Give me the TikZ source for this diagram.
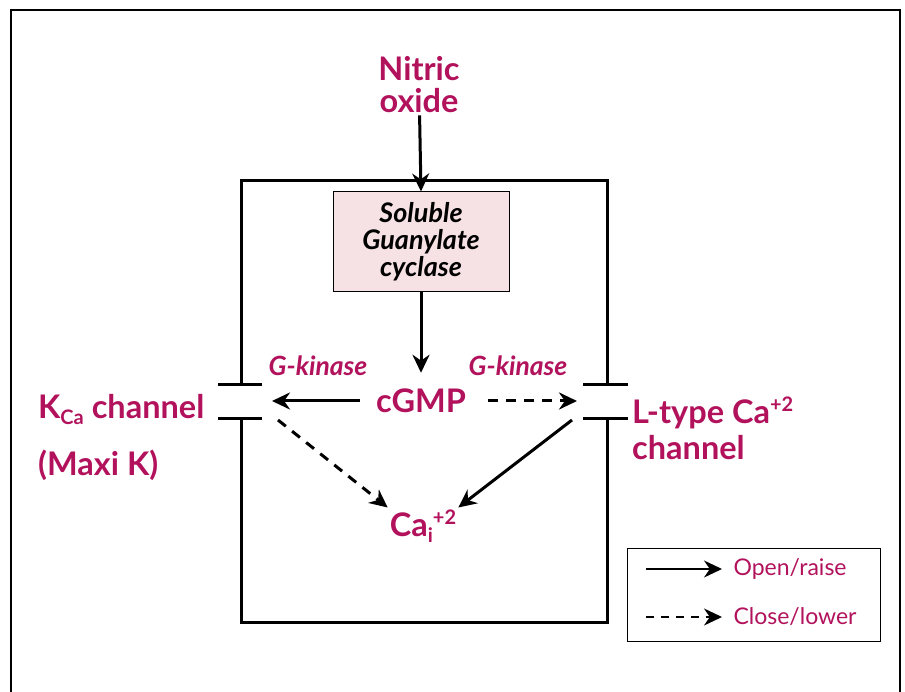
\documentclass[tikz,border=0pt]{standalone}
\usepackage{fontspec}
\setmainfont{Lato}
\usetikzlibrary{arrows.meta}
\definecolor{nomag}{RGB}{178,18,92}
\definecolor{sgcpink}{RGB}{246,226,228}
\tikzset{>={Stealth[length=18pt,width=17pt]},
  wall/.style={line width=3pt},
  lbl/.style={text=nomag,font=\fontsize{32.5}{33}\selectfont\bfseries,align=center,inner sep=2pt},
  kin/.style={text=nomag,font=\fontsize{26.5}{28}\selectfont\bfseries\itshape},
  enz/.style={draw,line width=1pt,fill=sgcpink,minimum width=176pt,minimum height=100pt,align=center,inner sep=0pt,font=\fontsize{27}{27}\selectfont\bfseries\itshape},
  flow/.style={line width=3pt,->},
  dflow/.style={flow,dash pattern=on 10pt off 8pt},
  legtxt/.style={text=nomag,font=\fontsize{23}{25}\selectfont,anchor=west}}
\newcommand{\sgcsub}[1]{\raisebox{-6pt}{\fontsize{20}{20}\selectfont #1}}
\newcommand{\sgcsup}[1]{\raisebox{12pt}{\fontsize{20}{20}\selectfont #1}}

\begin{document}
\begin{tikzpicture}[x=1pt,y=-1pt]
\useasboundingbox (0,0) rectangle (905,692);
% outer frame
\draw[line width=1.5pt] (11,700) |- (900,10) -- (900,700);
% cell with the two channels
\draw[wall] (241,385) |- (607,181) -- (607,385);
\draw[wall] (241,419) |- (607,622) -- (607,419);
\foreach \y in {385,419} {\draw[wall] (218,\y)--(262,\y);\draw[wall] (583,\y)--(628,\y);}
\coordinate (kin) at (272,401);\coordinate (kout) at (278,420);
\coordinate (lin) at (577,401);\coordinate (lout) at (572,420);
% labels
\node[lbl] (no) at (419,85) {Nitric\\[-1pt]oxide};
\node[enz] (sgc) at (421,242) {Soluble\\Guanylate\\cyclase};
\node[lbl] (cgmp) at (421,401) {cGMP};
\node[kin] (gkl) at (318,366) {G-kinase};
\node[kin] (gkr) at (518,366) {G-kinase};
\node[lbl,anchor=west] (kca) at (36,410) {K\sgcsub{Ca} channel};
\node[lbl,anchor=west] (maxi) at (36,465) {(Maxi K)};
\node[lbl,anchor=west,align=left] (ltype) at (630,428) {L-type Ca\sgcsup{+2}\\[3pt]channel};
\node[lbl] (cai) at (423,526) {Ca\sgcsub{i}\sgcsup{+2}};
% arrows
\draw[flow] (no) -- (sgc.north);
\draw[flow,shorten >=14pt] (sgc) -- (cgmp);
\draw[flow,shorten <=14pt] (cgmp) -- (kin);
\draw[dflow,shorten <=20pt] (cgmp) -- (lin);
\draw[dflow] (kout) -- (cai.north west);
\draw[flow] (lout) -- (cai.north east);
% legend
\node[draw,line width=1pt,minimum width=253pt,minimum height=93pt] (leg) at (753.5,594.5) {};
\coordinate (o1) at (646,569);\coordinate (o2) at (722,569);
\coordinate (c1) at (646,617);\coordinate (c2) at (722,617);
\draw[flow,line width=2.2pt] (o1) -- (o2);
\draw[dflow,line width=2.2pt,dash pattern=on 8pt off 7pt] (c1) -- (c2);
\node[legtxt] (open) at (730,569) {Open/raise};
\node[legtxt] (close) at (730,617) {Close/lower};
\end{tikzpicture}
\end{document}
